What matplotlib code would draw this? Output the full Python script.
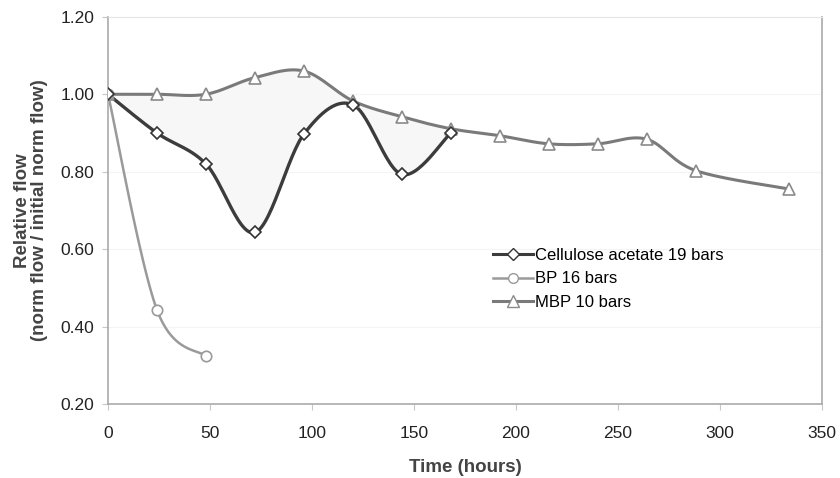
import numpy as np
import matplotlib
matplotlib.use('Agg')
import matplotlib.pyplot as plt

plt.rcParams['font.family'] = ['Liberation Sans', 'DejaVu Sans']

# data
ca_t = [0, 24, 48, 72, 96, 120, 144, 168]
ca_y = [1.00, 0.90, 0.82, 0.643, 0.897, 0.973, 0.793, 0.90]

bp_t = [0, 24, 48]
bp_y = [1.00, 0.443, 0.323]

mbp_t = [0, 24, 48, 72, 96, 120, 144, 168, 192, 216, 240, 264, 288, 334]
mbp_y = [1.00, 1.00, 1.00, 1.043, 1.06, 0.983, 0.942, 0.911, 0.893, 0.872, 0.872, 0.884, 0.803, 0.755]

labels = ['Cellulose acetate 19 bars', 'BP 16 bars', 'MBP 10 bars']


def smooth(xs, ys, n=30):
    # catmull-rom style smoothing, like excel's smoothed lines
    p = np.column_stack([xs, ys]).astype(float)
    p = np.vstack([p[0], p, p[-1]])
    out = []
    for i in range(1, len(p) - 2):
        p0, p1, p2, p3 = p[i - 1], p[i], p[i + 1], p[i + 2]
        c1 = p1 + (p2 - p0) / 6
        c2 = p2 - (p3 - p1) / 6
        t = np.linspace(0, 1, n)[:, None]
        seg = ((1 - t) ** 3) * p1 + 3 * ((1 - t) ** 2) * t * c1 + 3 * (1 - t) * t ** 2 * c2 + t ** 3 * p2
        out.append(seg if i == 1 else seg[1:])
    s = np.vstack(out)
    return s[:, 0], s[:, 1]


fig = plt.figure(figsize=(8.4, 4.78), dpi=100)
ax = fig.add_axes([0.1286, 0.1548, 0.85, 0.81])

# shaded band between the two membranes
mx, my = smooth(mbp_t[:8], mbp_y[:8])
cx, cy = smooth(ca_t, ca_y)
ax.fill(np.concatenate([mx, cx[::-1]]), np.concatenate([my, cy[::-1]]),
        color='#f7f7f7', lw=0, zorder=1)

x, y = smooth(mbp_t, mbp_y)
ax.plot(x, y, color='#7a7a7a', lw=2.2, zorder=2)
ax.plot(mbp_t, mbp_y, ls='none', marker='^', ms=9, mfc='white', mec='#8a8a8a', mew=1.2, zorder=4)

x, y = smooth(bp_t, bp_y)
ax.plot(x, y, color='#9a9a9a', lw=1.8, zorder=2)
ax.plot(bp_t, bp_y, ls='none', marker='o', ms=7.5, mfc='white', mec='#9a9a9a', mew=1.2, zorder=4)

x, y = smooth(ca_t, ca_y)
ax.plot(x, y, color='#3c3c3c', lw=2.4, zorder=3)
ax.plot(ca_t, ca_y, ls='none', marker='D', ms=6.5, mfc='white', mec='#333333', mew=1.2, zorder=5)

# legend proxies
h1, = ax.plot([], [], color='#3c3c3c', lw=2.2, marker='D', ms=6, mfc='white', mec='#333333')
h2, = ax.plot([], [], color='#9a9a9a', lw=1.8, marker='o', ms=7, mfc='white', mec='#9a9a9a')
h3, = ax.plot([], [], color='#7a7a7a', lw=2.2, marker='^', ms=8, mfc='white', mec='#8a8a8a')
ax.legend([h1, h2, h3], labels, loc='upper left', bbox_to_anchor=(0.53, 0.42),
          frameon=False, fontsize=12, handlelength=2.4, handletextpad=0.1,
          labelspacing=0.5, borderaxespad=0)

ax.set_xlim(0, 350)
ax.set_ylim(0.2, 1.2)
ax.set_xticks(np.arange(0, 351, 50))
ax.set_yticks(np.arange(0.2, 1.21, 0.2))
ax.set_yticklabels(['%.2f' % v for v in np.arange(0.2, 1.21, 0.2)])
ax.yaxis.grid(True, color='#f4f4f4', lw=0.8)
ax.set_axisbelow(True)
ax.tick_params(labelsize=12.5, colors='#222222', length=4, width=0.8)
ax.tick_params(axis='x', pad=12, color='#c8c8c8')
ax.tick_params(axis='y', pad=6, color='#c8c8c8')
for s in ['left', 'bottom', 'right']:
    ax.spines[s].set_color('#aaaaaa')
    ax.spines[s].set_linewidth(1.2)
ax.spines['top'].set_color('#e6e6e6')

ax.set_xlabel('Time (hours)', fontsize=13.5, fontweight='bold', color='#444444', labelpad=13)
ax.set_ylabel('Relative flow\n(norm flow / initial norm flow)', fontsize=13.5,
              fontweight='bold', color='#444444', labelpad=9, linespacing=1.0)

fig.savefig('out.png', dpi=100)
